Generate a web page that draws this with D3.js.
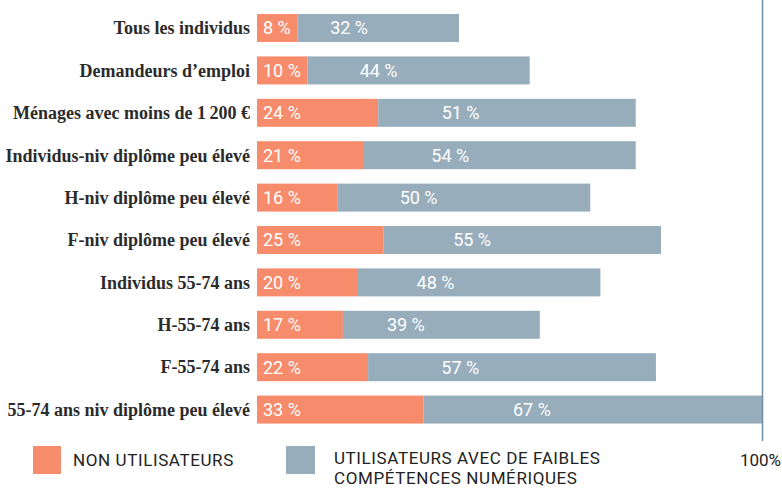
<!DOCTYPE html>
<html>
<head>
<meta charset="utf-8">
<script src="https://cdn.jsdelivr.net/npm/d3@7"></script>
<style>
  body { margin: 0; background: #fff; }
  svg { display: block; }
</style>
</head>
<body>
<svg id="chart"></svg>
<script>
var width = 782;
var height = 488;

var categories = [
  "Tous les individus",
  "Demandeurs d\u2019emploi",
  "M\u00e9nages avec moins de 1\u202f200 \u20ac",
  "Individus-niv dipl\u00f4me peu \u00e9lev\u00e9",
  "H-niv dipl\u00f4me peu \u00e9lev\u00e9",
  "F-niv dipl\u00f4me peu \u00e9lev\u00e9",
  "Individus 55-74 ans",
  "H-55-74 ans",
  "F-55-74 ans",
  "55-74 ans niv dipl\u00f4me peu \u00e9lev\u00e9"
];
var nonUsers = [8, 10, 24, 21, 16, 25, 20, 17, 22, 33];
var lowSkills = [32, 44, 51, 54, 50, 55, 48, 39, 57, 67];
var seriesNames = ["NON UTILISATEURS", "UTILISATEURS AVEC DE FAIBLES", "COMP\u00c9TENCES NUM\u00c9RIQUES"];

var orange = "#f68c6c";
var grey = "#97adbc";
var sans = "Roboto, sans-serif";

var svg = d3.select("#chart")
  .attr("width", width)
  .attr("height", height);

var x = d3.scaleLinear().domain([0, 100]).range([257, 762]);
var y = d3.scaleBand().domain(categories).range([-0.4, 438]).padding(0.34);

//category labels
svg.append("g").selectAll("text")
  .data(categories)
  .join("text")
  .text(function (d) { return d; })
  .attr("x", 250)
  .attr("y", function (d) { return y(d) + y.bandwidth() / 2; })
  .attr("dy", ".35em")
  .attr("text-anchor", "end")
  .attr("font-family", "Liberation Serif, serif")
  .attr("font-weight", "bold")
  .attr("font-size", "18px")
  .attr("fill", "#2b2b2b");

//bars
var rows = svg.append("g").selectAll("g")
  .data(categories)
  .join("g")
  .attr("transform", function (d) { return "translate(0," + y(d) + ")"; });

rows.append("rect")
  .attr("x", x(0))
  .attr("width", function (d, i) { return x(nonUsers[i]) - x(0); })
  .attr("height", y.bandwidth())
  .attr("fill", orange);

rows.append("rect")
  .attr("x", function (d, i) { return x(nonUsers[i]); })
  .attr("width", function (d, i) { return x(nonUsers[i] + lowSkills[i]) - x(nonUsers[i]); })
  .attr("height", y.bandwidth())
  .attr("fill", grey);

rows.append("text")
  .text(function (d, i) { return nonUsers[i] + " %"; })
  .attr("x", x(0) + 6)
  .attr("y", y.bandwidth() / 2)
  .attr("dy", ".36em")
  .attr("font-family", sans)
  .attr("font-size", "18px")
  .attr("fill", "white");

rows.append("text")
  .text(function (d, i) { return lowSkills[i] + " %"; })
  .attr("x", function (d, i) {
    return x(nonUsers[i]) + (x(nonUsers[i] + lowSkills[i]) - x(nonUsers[i])) * 0.32;
  })
  .attr("y", y.bandwidth() / 2)
  .attr("dy", ".36em")
  .attr("text-anchor", "middle")
  .attr("font-family", sans)
  .attr("font-size", "18px")
  .attr("fill", "white");

//100% line
svg.append("line")
  .attr("x1", x(100) + 0.5)
  .attr("x2", x(100) + 0.5)
  .attr("y1", 0)
  .attr("y2", 441)
  .attr("stroke", "#6e8fa3")
  .attr("stroke-width", 1.5);

svg.append("text")
  .text("100%")
  .attr("x", 781)
  .attr("y", 466)
  .attr("text-anchor", "end")
  .attr("font-family", sans)
  .attr("font-size", "17px")
  .attr("fill", "#222");

//legend
var legend = svg.append("g")
  .attr("font-family", sans)
  .attr("font-size", "17px")
  .attr("letter-spacing", "0.6px")
  .attr("fill", "#222");

legend.append("rect")
  .attr("x", 33).attr("y", 446)
  .attr("width", 28).attr("height", 28)
  .attr("fill", orange);

legend.append("text")
  .text(seriesNames[0])
  .attr("x", 73).attr("y", 466);

legend.append("rect")
  .attr("x", 286).attr("y", 446)
  .attr("width", 29).attr("height", 28)
  .attr("fill", grey);

legend.append("text")
  .text(seriesNames[1])
  .attr("x", 334).attr("y", 464);

legend.append("text")
  .text(seriesNames[2])
  .attr("x", 334).attr("y", 484);
</script>
</body>
</html>
